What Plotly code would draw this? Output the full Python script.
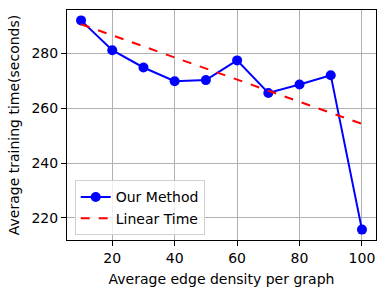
import plotly.graph_objects as go

x_vals = [10, 20, 30, 40, 50, 60, 70, 80, 90, 100]
our_method = [292.1, 281.2, 274.9, 269.9, 270.3, 277.5, 265.6, 268.7, 272.1, 215.7]
linear_x = [10, 100]
linear_time = [290.7, 254.3]
x_ticks = [20, 40, 60, 80, 100]
y_ticks = [220, 240, 260, 280]

font = dict(family="DejaVu Sans", size=14, color="black")

fig = go.Figure()
fig.add_trace(go.Scatter(x=x_vals, y=our_method, mode="lines+markers", name="Our Method",
                         line=dict(color="blue", width=2), marker=dict(color="blue", size=10)))
fig.add_trace(go.Scatter(x=linear_x, y=linear_time, mode="lines", name="Linear Time",
                         line=dict(color="red", width=2, dash="dash")))

axis_common = dict(showline=True, linecolor="black", linewidth=1, mirror=True,
                   showgrid=True, gridcolor="#b0b0b0", gridwidth=1,
                   ticks="outside", ticklen=5, tickcolor="black", tickfont=font,
                   zeroline=False, automargin=False)
fig.update_xaxes(range=[5.5, 104.5], tickvals=x_ticks,
                 title=dict(text="Average edge density per graph", font=font, standoff=9), **axis_common)
fig.update_yaxes(range=[211.9, 295.9], tickvals=y_ticks,
                 title=dict(text="Average training time(seconds)", font=font, standoff=8), **axis_common)

fig.update_layout(width=385, height=294, margin=dict(l=67, r=9, t=10, b=54),
                  plot_bgcolor="white", paper_bgcolor="white", font=font,
                  legend=dict(x=0.025, y=0.02, xanchor="left", yanchor="bottom",
                              bgcolor="rgba(255,255,255,0.8)", bordercolor="#d0d0d0", borderwidth=1,
                              font=font, tracegroupgap=0, itemwidth=30))
fig.write_html("out.html", config={"displayModeBar": False},
               post_script="document.body.style.margin='0';document.body.style.overflow='hidden';")
